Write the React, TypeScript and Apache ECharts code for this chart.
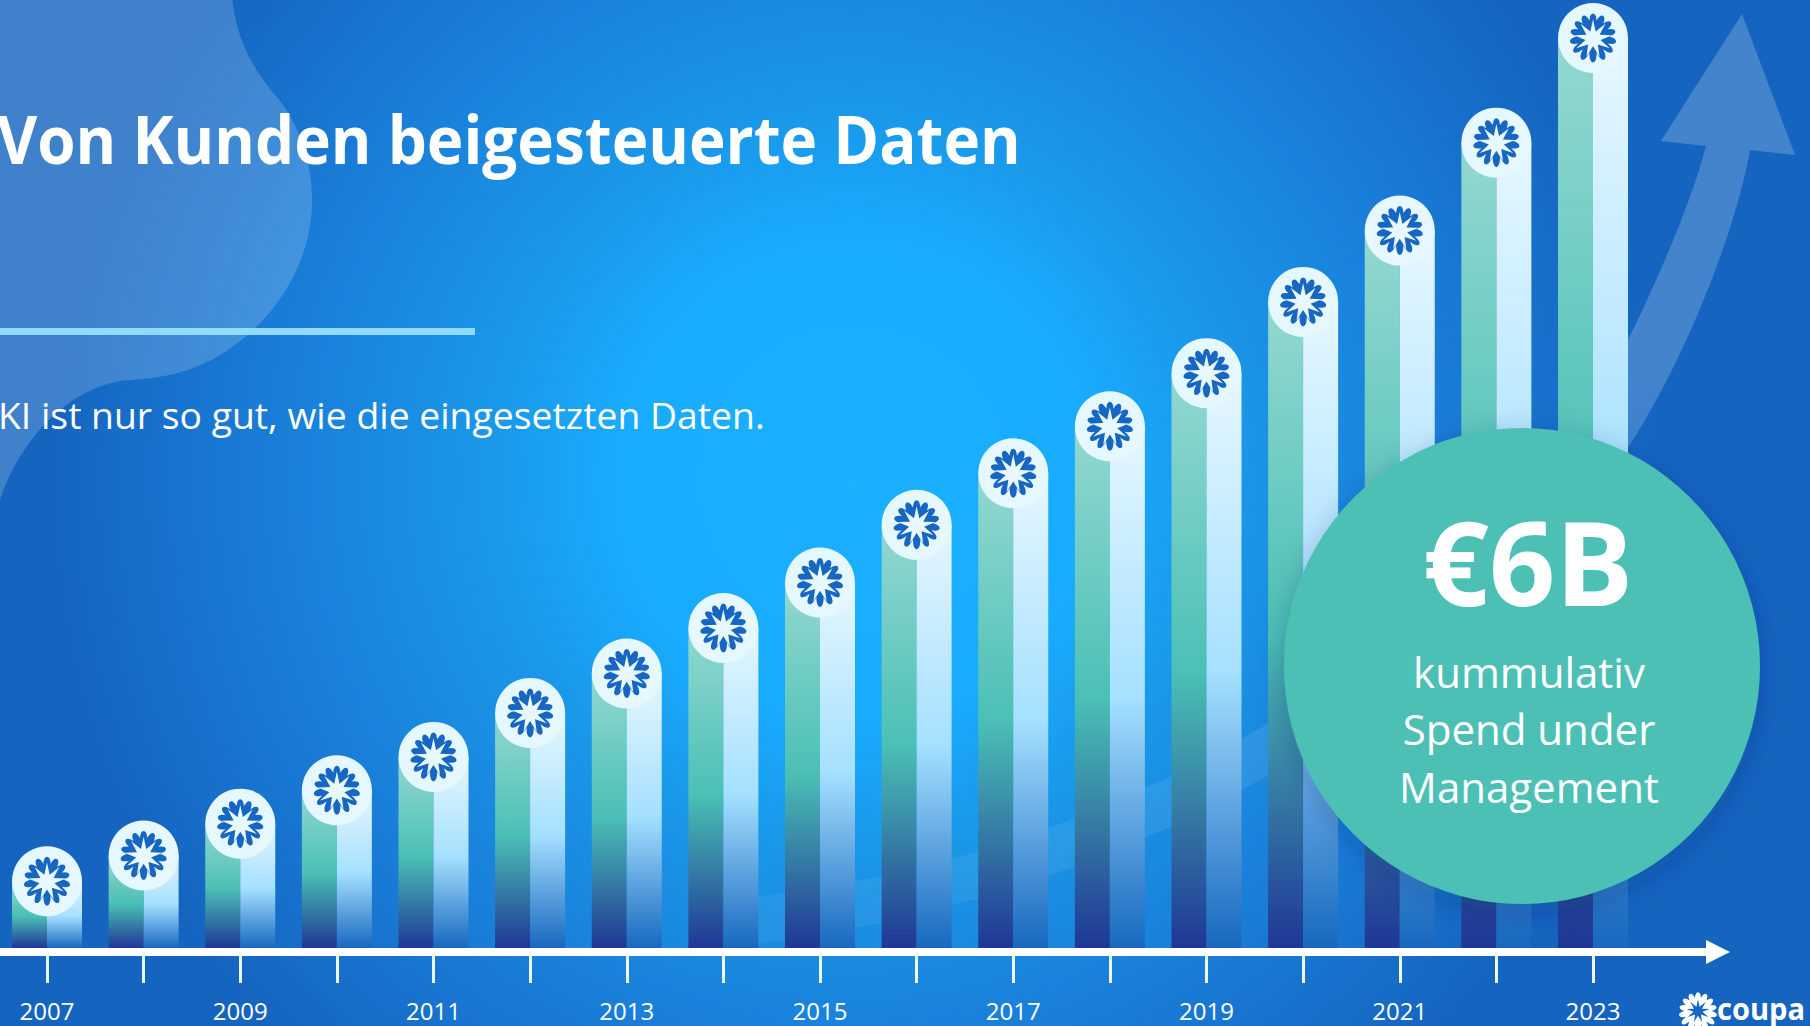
import React, { useEffect, useRef } from "react";
import * as echarts from "echarts";

const years = ["2007","2008","2009","2010","2011","2012","2013","2014","2015","2016","2017","2018","2019","2020","2021","2022","2023"];
const spendBn = [0.44,0.61,0.82,1.04,1.26,1.55,1.81,2.11,2.41,2.79,3.13,3.44,3.79,4.26,4.73,5.31,6.0];
const titleText = "Von Kunden beigesteuerte Daten";
const subtitleText = "KI ist nur so gut, wie die eingesetzten Daten.";
const bubbleHead = "€6B";
const bubbleLines = ["kummulativ", "Spend under", "Management"];
const FONT = '"Open Sans", sans-serif';

function polar(a: number, r: number) {
  return `${(Math.cos(a) * r).toFixed(2)} ${(Math.sin(a) * r).toFixed(2)}`;
}
function petals(n: number, rv: number, rt: number, stretch: number) {
  const half = Math.PI / n;
  let d = "";
  for (let i = 0; i < n; i++) {
    const a = (2 * Math.PI * i) / n - Math.PI / 2;
    const t = rt * (1 + stretch * Math.max(0, Math.sin(a)));
    if (i === 0) d += `M${polar(a - half, rv)} `;
    d += `Q${polar(a - half * 0.62, t)} ${polar(a, t)} Q${polar(a + half * 0.62, t)} ${polar(a + half, rv)} `;
  }
  return d + "Z";
}
function star(n: number, rv: number, rt: number) {
  const half = Math.PI / n;
  let d = "";
  for (let i = 0; i < n; i++) {
    const a = (2 * Math.PI * i) / n - Math.PI / 2;
    d += `${i === 0 ? "M" : "L"}${polar(a - half, rv)} L${polar(a, rt)} `;
  }
  return d + "Z";
}
const flowerOuter = petals(14, 16.5, 23, 0.14);
const flowerInner = star(9, 7.5, 19);

const blobPath = "M232 -2 C236 40 255 72 276 96 C300 124 313 165 312 205 C310 265 275 320 225 352 C190 374 160 378 130 380 C70 384 20 440 0 500 L0 -2 Z";
const arrowPath =
  "M740 900 L787 892 L857 881 L883 876 L954 858 L981 851 L1051 827 L1076 818 L1147 787 L1170 777 L1240 740 L1267 724 " +
  "C1420 630 1560 480 1628 340 C1660 275 1692 200 1706 146 L1661 141 L1742 14 L1795 155 L1750 150 " +
  "C1738 220 1695 335 1645 420 C1560 565 1400 705 1267 776 L1240 791 L1170 827 L1147 837 L1076 866 L1051 875 L981 898 L954 904 L883 923 L857 927 L787 940 L740 946 Z";

echarts.graphic.registerShape("blobShape", echarts.graphic.extendPath(blobPath, {}));
echarts.graphic.registerShape("arrowShape", echarts.graphic.extendPath(arrowPath, {}));
echarts.graphic.registerShape("flowerOuterShape", echarts.graphic.extendPath(flowerOuter, {}));
echarts.graphic.registerShape("flowerInnerShape", echarts.graphic.extendPath(flowerInner, {}));

const grad = (stops: [number, string][]) => ({
  type: "linear", x: 0, y: 0, x2: 0, y2: 1,
  colorStops: stops.map(([offset, color]) => ({ offset, color })),
});

export default function App() {
  const ref = useRef<HTMLDivElement>(null);
  useEffect(() => {
    document.body.style.margin = "0";
    document.body.style.overflow = "hidden";
    const chart = echarts.init(ref.current!, null, { renderer: "svg" });
    chart.setOption({
      animation: false,
      grid: { left: 47, right: 217, top: 38, bottom: 78 },
      xAxis: {
        type: "category",
        data: years,
        boundaryGap: false,
        offset: 4,
        axisLine: { show: true, onZero: false, lineStyle: { color: "#ffffff", width: 8 } },
        axisTick: { show: true, alignWithLabel: true, interval: 0, length: 31, lineStyle: { color: "#eef8ff", width: 3 } },
        axisLabel: { show: true, interval: 1, color: "#ffffff", fontFamily: FONT, fontSize: 24, margin: 46 },
      },
      yAxis: { type: "value", min: 0, max: 6, show: false },
      series: [
        {
          name: "Spend A", type: "bar", data: spendBn, barWidth: 35, barGap: "0%", clip: false,
          itemStyle: { color: grad([[0, "#93d8d1"], [0.52, "#4bc0b5"], [1, "#1f3795"]]) },
        },
        {
          name: "Spend B", type: "bar", data: spendBn, barWidth: 35, clip: false,
          itemStyle: { color: grad([[0, "#e6f7ff"], [0.52, "#a5e0ff"], [1, "#1868c0"]]) },
        },
        {
          name: "Badge", type: "scatter", data: spendBn, symbol: "circle", symbolSize: 70, z: 3,
          itemStyle: { color: "#e5f7ff", opacity: 1 },
        },
        {
          name: "Flower", type: "scatter", data: spendBn, symbol: "path://" + flowerOuter, symbolSize: 49, symbolKeepAspect: true, z: 4,
          itemStyle: { color: "#1766c2", opacity: 1 },
        },
        {
          name: "FlowerCore", type: "scatter", data: spendBn, symbol: "path://" + flowerInner, symbolSize: 38, symbolKeepAspect: true, z: 5,
          itemStyle: { color: "#e8f8ff", opacity: 1 },
        },
      ],
      graphic: [
        {
          type: "rect", z: -10, shape: { x: 0, y: 0, width: 1810, height: 1026 },
          style: {
            fill: new echarts.graphic.RadialGradient(855, 480, 800, [
              { offset: 0, color: "#1bb1ff" },
              { offset: 0.3, color: "#19abfd" },
              { offset: 0.47, color: "#1a97e8" },
              { offset: 0.68, color: "#1a82dc" },
              { offset: 1, color: "#1565c0" },
            ], true),
          },
        },
        {
          type: "blobShape", z: -5, x: 0, y: 0,
          style: { fill: new echarts.graphic.LinearGradient(0, 0, 1, 1, [
            { offset: 0, color: "rgba(255,255,255,0.18)" },
            { offset: 1, color: "rgba(255,255,255,0.18)" },
          ]) },
        },
        {
          type: "arrowShape", z: -5, x: 0, y: 0,
          style: { fill: new echarts.graphic.LinearGradient(0, 1, 1, 0, [
            { offset: 0, color: "rgba(255,255,255,0.05)" },
            { offset: 0.5, color: "rgba(255,255,255,0.1)" },
            { offset: 0.75, color: "rgba(255,255,255,0.2)" },
            { offset: 1, color: "rgba(255,255,255,0.2)" },
          ]) },
        },
        { type: "rect", z: 6, shape: { x: 0, y: 948, width: 48, height: 8 }, style: { fill: "#ffffff" } },
        { type: "rect", z: 6, shape: { x: 1592, y: 948, width: 116, height: 8 }, style: { fill: "#ffffff" } },
        { type: "polygon", z: 6, shape: { points: [[1706, 940], [1730, 952], [1706, 964]] }, style: { fill: "#ffffff" } },
        { type: "rect", z: 6, shape: { x: 0, y: 328, width: 475, height: 7 }, style: { fill: "#90dbff" } },
        {
          type: "text", z: 6, x: -3, y: 138, scaleX: 0.925,
          style: { text: titleText, fill: "#ffffff", font: `700 67px ${FONT}`, verticalAlign: "middle" },
        },
        {
          type: "text", z: 6, x: -2, y: 414,
          style: { text: subtitleText, fill: "#ffffff", font: `400 37.3px ${FONT}`, verticalAlign: "middle" },
        },
        {
          type: "circle", z: 20, shape: { cx: 1522, cy: 666, r: 238 },
          style: { fill: "#4dc0b5", shadowBlur: 30, shadowColor: "rgba(10,30,90,0.25)", shadowOffsetX: 0, shadowOffsetY: 8 },
        },
        {
          type: "text", z: 21, x: 1528, y: 561,
          style: { text: bubbleHead, fill: "#ffffff", font: `700 116px ${FONT}`, align: "center", verticalAlign: "middle" },
        },
        ...bubbleLines.map((text, i) => ({
          type: "text", z: 21, x: 1529, y: 671 + i * 57.5,
          style: { text, fill: "#ffffff", font: `400 42px ${FONT}`, align: "center", verticalAlign: "middle" },
        })),
        { type: "flowerOuterShape", z: 6, x: 1698, y: 1011, scaleX: 0.82, scaleY: 0.82, style: { fill: "#ffffff" } },
        { type: "flowerInnerShape", z: 7, x: 1698, y: 1011, scaleX: 0.62, scaleY: 0.62, style: { fill: "#1766c2" } },
        {
          type: "text", z: 6, x: 1717, y: 1008, scaleX: 0.97,
          style: { text: "coupa", fill: "#ffffff", font: `700 30px ${FONT}`, verticalAlign: "middle" },
        },
      ],
    });
    return () => chart.dispose();
  }, []);
  return <div ref={ref} style={{ position: "absolute", left: 0, top: 0, width: 1810, height: 1026 }} />;
}
